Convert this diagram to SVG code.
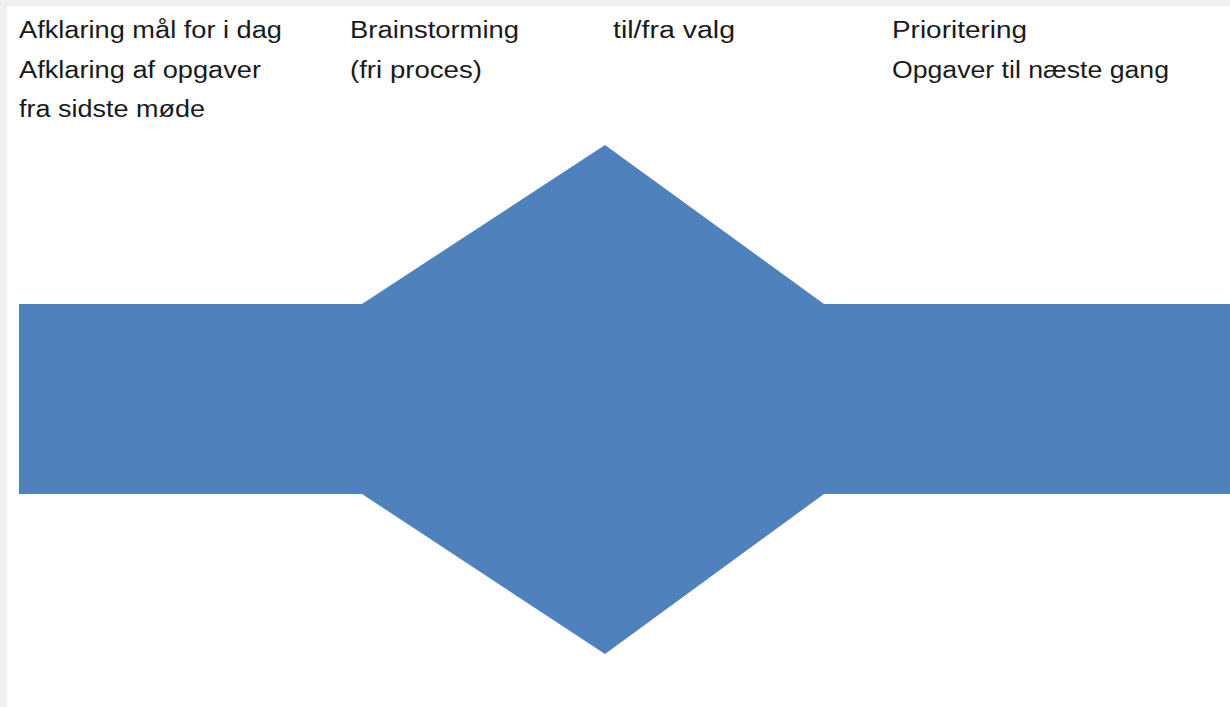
<svg xmlns="http://www.w3.org/2000/svg" width="1230" height="707" viewBox="0 0 1230 707">
  <style>
    .t { font-family: "Liberation Sans", Arial, sans-serif; font-size: 23px; fill: #1a1a1a; }
    .shape { fill: #4f81bd; }
  </style>
  <rect x="0" y="0" width="1230" height="707" fill="#f0f0f0"/>
  <rect x="7" y="6" width="1223" height="701" fill="#ffffff"/>
  <g id="process-shape">
    <polygon class="shape" points="19,304 362,304 605,145 824,304 1230,304 1230,494 824,494 605,654 362,494 19,494"/>
  </g>
  <g id="label-afklaring">
    <text class="t" x="19" y="38" textLength="263" lengthAdjust="spacingAndGlyphs">Afklaring mål for i dag</text>
    <text class="t" x="19" y="78" textLength="242" lengthAdjust="spacingAndGlyphs">Afklaring af opgaver</text>
    <text class="t" x="19" y="117" textLength="186" lengthAdjust="spacingAndGlyphs">fra sidste møde</text>
  </g>
  <g id="label-brainstorming">
    <text class="t" x="350" y="38" textLength="169" lengthAdjust="spacingAndGlyphs">Brainstorming</text>
    <text class="t" x="350" y="78" textLength="132" lengthAdjust="spacingAndGlyphs">(fri proces)</text>
  </g>
  <g id="label-valg">
    <text class="t" x="613" y="38" textLength="122" lengthAdjust="spacingAndGlyphs">til/fra valg</text>
  </g>
  <g id="label-prioritering">
    <text class="t" x="892" y="38" textLength="135" lengthAdjust="spacingAndGlyphs">Prioritering</text>
    <text class="t" x="892" y="78" textLength="277" lengthAdjust="spacingAndGlyphs">Opgaver til næste gang</text>
  </g>
</svg>
